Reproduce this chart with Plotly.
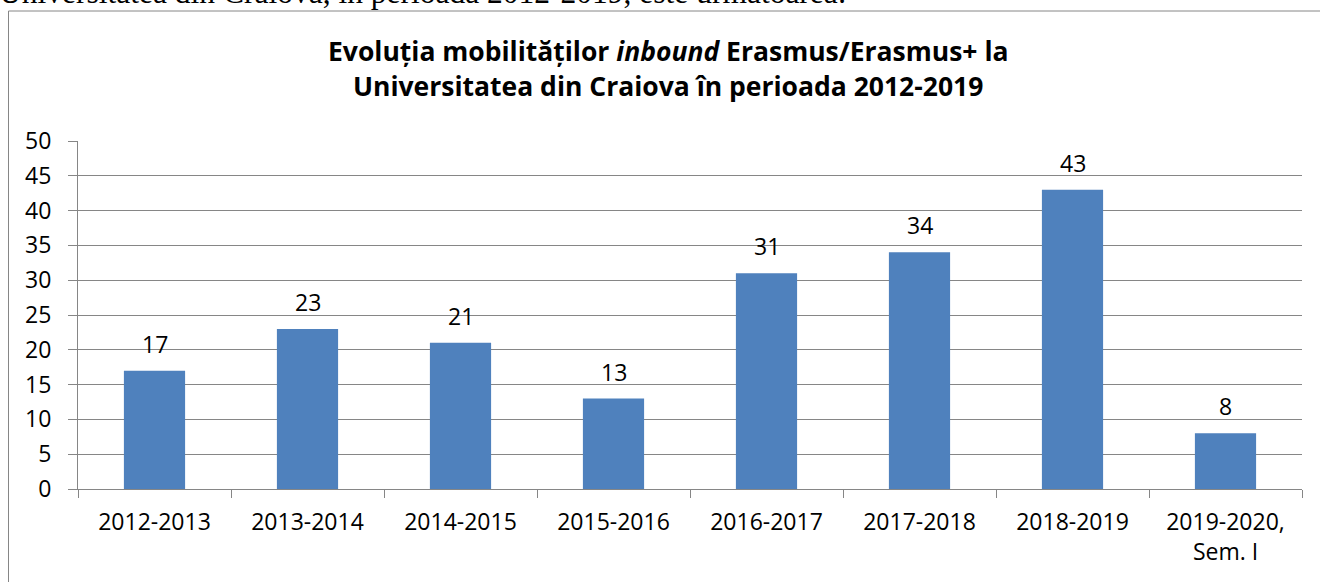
import plotly.graph_objects as go

categories = ["2012-2013", "2013-2014", "2014-2015", "2015-2016", "2016-2017",
              "2017-2018", "2018-2019", "2019-2020,<br>Sem. I"]
values = [17, 23, 21, 13, 31, 34, 43, 8]
y_ticks = [0, 5, 10, 15, 20, 25, 30, 35, 40, 45, 50]

title_line1 = "<b>Evoluția mobilităților <i>inbound</i> Erasmus/Erasmus+ la</b>"
title_line2 = "<b>Universitatea din Craiova în perioada 2012-2019</b>"
top_text = "Universitatea din Craiova, în perioada 2012-2019, este următoarea:"

W, H = 1320, 582
L, R, T, B = 78, 18, 141, 93
pw, ph = W - L - R, H - T - B

def px(x):
    return (x - L) / pw

def py(y):
    return (H - B - y) / ph

FONT = "Open Sans"
GRID = "#868686"

fig = go.Figure()
fig.add_trace(go.Bar(x=categories, y=values, marker=dict(color="#4F81BD", line=dict(width=0)),
                     hoverinfo="x+y"))

annotations = []
for c, v in zip(categories, values):
    annotations.append(dict(x=c, y=v, xref="x", yref="y", text=str(v), showarrow=False,
                            yanchor="middle", yshift=27,
                            font=dict(family=FONT, size=23, color="black")))

annotations.append(dict(x=px(668), y=py(51), xref="paper", yref="paper", text=title_line1,
                        showarrow=False, xanchor="center", yanchor="middle",
                        font=dict(family=FONT, size=26.5, color="black")))
annotations.append(dict(x=px(668), y=py(86), xref="paper", yref="paper", text=title_line2,
                        showarrow=False, xanchor="center", yanchor="middle",
                        font=dict(family=FONT, size=26.5, color="black")))
annotations.append(dict(x=px(-3), y=py(12), xref="paper", yref="paper", text=top_text,
                        showarrow=False, xanchor="left", yanchor="bottom",
                        font=dict(family="Liberation Serif", size=31.5, color="black")))

fig.update_layout(
    width=W, height=H,
    margin=dict(l=L, r=R, t=T, b=B, pad=0),
    paper_bgcolor="white", plot_bgcolor="white",
    bargap=0.6,
    showlegend=False,
    annotations=annotations,
    shapes=[dict(type="rect", xref="paper", yref="paper",
                 x0=px(8.5), x1=px(1340), y0=py(11), y1=py(600),
                 line=dict(color=GRID, width=1), fillcolor="rgba(0,0,0,0)", layer="below")],
    font=dict(family=FONT, size=23, color="black"),
)

fig.update_xaxes(type="category", showgrid=False, showline=True, linecolor=GRID, linewidth=1,
                 ticks="outside", tickson="boundaries", ticklen=8, tickcolor=GRID,
                 ticklabelstandoff=12,
                 tickfont=dict(family=FONT, size=23, color="black"))
fig.update_yaxes(range=[0, 50], tickvals=y_ticks, showgrid=True, gridcolor=GRID, gridwidth=1,
                 showline=True, linecolor=GRID, linewidth=1, zeroline=False,
                 ticks="outside", ticklen=9, tickcolor=GRID, ticklabelstandoff=12,
                 tickfont=dict(family=FONT, size=23, color="black"))

fig.write_html("out.html", config={"displayModeBar": False},
               post_script="document.body.style.margin='0';document.body.style.overflow='hidden';")
